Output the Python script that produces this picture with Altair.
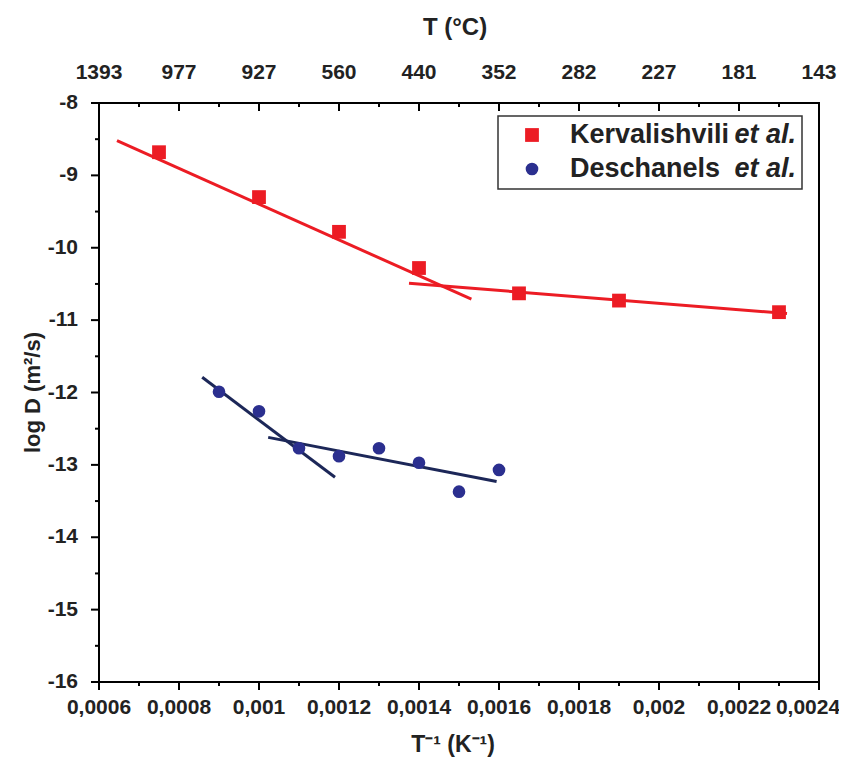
import altair as alt
import pandas as pd

# ---------------- data ----------------
kerv_x = [0.00075, 0.001, 0.0012, 0.0014, 0.00165, 0.0019, 0.0023]
kerv_y = [-8.68, -9.30, -9.78, -10.28, -10.63, -10.73, -10.89]

desch_x = [0.0009, 0.001, 0.0011, 0.0012, 0.0013, 0.0014, 0.0015, 0.0016]
desch_y = [-11.99, -12.26, -12.77, -12.88, -12.77, -12.97, -13.37, -13.07]

kerv_fit_high_x = [0.000645, 0.001531]
kerv_fit_high_y = [-8.52, -10.71]
kerv_fit_low_x = [0.001375, 0.00232]
kerv_fit_low_y = [-10.49, -10.91]

desch_fit_high_x = [0.000858, 0.00119]
desch_fit_high_y = [-11.79, -13.17]
desch_fit_low_x = [0.001023, 0.001594]
desch_fit_low_y = [-12.62, -13.23]

x_major = [0.0006, 0.0008, 0.001, 0.0012, 0.0014, 0.0016, 0.0018, 0.002, 0.0022, 0.0024]
x_labels_bottom = ["0,0006", "0,0008", "0,001", "0,0012", "0,0014", "0,0016",
                   "0,0018", "0,002", "0,0022", "0,0024"]
x_labels_top = ["1393", "977", "927", "560", "440", "352", "282", "227", "181", "143"]

y_major = [-16, -15, -14, -13, -12, -11, -10, -9, -8]
y_labels = ["-16", "-15", "-14", "-13", "-12", "-11", "-10", "-9", "-8"]

series_names = ["Kervalishvili", "Deschanels"]
x_title = "T⁻¹ (K⁻¹)"
x2_title = "T (°C)"
y_title = "log D (m²/s)"

# ---------------- styling ----------------
RED = "#ec1c24"
BLUE_PT = "#2b2f8f"
BLUE_LN = "#1c2758"
FONT = "Liberation Sans"
TXT = "#222222"
W, H = 720, 579

x_minor = [round((a + b) / 2, 5) for a, b in zip(x_major[:-1], x_major[1:])]
y_minor = [v + 0.5 for v in y_major[:-1]]

x_scale = alt.Scale(domain=[x_major[0], x_major[-1]], nice=False, zero=False)
y_scale = alt.Scale(domain=[y_major[0], y_major[-1]], nice=False, zero=False)


def X(field="x"):
    return alt.X(f"{field}:Q", scale=x_scale, axis=None)


def Y(field="y"):
    return alt.Y(f"{field}:Q", scale=y_scale, axis=None)


kerv_df = pd.DataFrame({"x": kerv_x, "y": kerv_y})
desch_df = pd.DataFrame({"x": desch_x, "y": desch_y})

fits = []
for name, seg, xs, ys in [
    ("Kervalishvili", "k1", kerv_fit_high_x, kerv_fit_high_y),
    ("Kervalishvili", "k2", kerv_fit_low_x, kerv_fit_low_y),
    ("Deschanels", "d1", desch_fit_high_x, desch_fit_high_y),
    ("Deschanels", "d2", desch_fit_low_x, desch_fit_low_y),
]:
    for xv, yv in zip(xs, ys):
        fits.append({"series": name, "seg": seg, "x": xv, "y": yv})
fit_df = pd.DataFrame(fits)

red_pts = alt.Chart(kerv_df).mark_square(size=190, color=RED, opacity=1).encode(x=X(), y=Y())
blue_pts = alt.Chart(desch_df).mark_circle(size=160, color=BLUE_PT, opacity=1).encode(x=X(), y=Y())
fit_lines = alt.Chart(fit_df).mark_line(strokeWidth=3).encode(
    x=X(), y=Y(), detail="seg:N",
    color=alt.Color("series:N", scale=alt.Scale(domain=series_names, range=[RED, BLUE_LN]),
                    legend=None),
)

# ---------------- ticks (drawn through the scales) ----------------
xmaj_df = pd.DataFrame({"x": x_major, "bottom": x_labels_bottom, "top": x_labels_top})
xmin_df = pd.DataFrame({"x": x_minor})
ymaj_df = pd.DataFrame({"y": y_major, "label": y_labels})
ymin_df = pd.DataFrame({"y": y_minor})

tick = dict(color="black", strokeWidth=2)
ticks = [
    # bottom, outward
    alt.Chart(xmaj_df).mark_rule(**tick).encode(x=X(), y=alt.value(H), y2=alt.value(H + 8)),
    alt.Chart(xmin_df).mark_rule(**tick).encode(x=X(), y=alt.value(H), y2=alt.value(H + 4)),
    # top, inward
    alt.Chart(xmaj_df).mark_rule(**tick).encode(x=X(), y=alt.value(0), y2=alt.value(8)),
    alt.Chart(xmin_df).mark_rule(**tick).encode(x=X(), y=alt.value(0), y2=alt.value(4)),
    # left, outward
    alt.Chart(ymaj_df).mark_rule(**tick).encode(y=Y(), x=alt.value(-8), x2=alt.value(0)),
    alt.Chart(ymin_df).mark_rule(**tick).encode(y=Y(), x=alt.value(-4), x2=alt.value(0)),
]

# ---------------- tick labels ----------------
lab = dict(font=FONT, fontWeight="bold", fontSize=21, color=TXT, baseline="middle")
n = len(x_major)
labels = [
    alt.Chart(xmaj_df.iloc[: n - 1]).mark_text(align="center", **lab).encode(
        x=X(), y=alt.value(H + 26), text="bottom:N"),
    alt.Chart(xmaj_df.iloc[n - 1:]).mark_text(align="center", dx=-11, **lab).encode(
        x=X(), y=alt.value(H + 26), text="bottom:N"),
    alt.Chart(xmaj_df).mark_text(align="center", **lab).encode(
        x=X(), y=alt.value(-30), text="top:N"),
    alt.Chart(ymaj_df).mark_text(align="right", **lab).encode(
        y=Y(), x=alt.value(-21), text="label:N"),
]

# ---------------- axis titles ----------------
ttl = dict(font=FONT, fontWeight="bold", color=TXT, baseline="middle", align="center")
titles = [
    alt.Chart(pd.DataFrame({"t": [x2_title]})).mark_text(fontSize=24, **ttl).encode(
        x=alt.value(356), y=alt.value(-75), text="t:N"),
    alt.Chart(pd.DataFrame({"t": [x_title]})).mark_text(fontSize=23, **ttl).encode(
        x=alt.value(354), y=alt.value(H + 63), text="t:N"),
    alt.Chart(pd.DataFrame({"t": [y_title]})).mark_text(fontSize=22, angle=270, **ttl).encode(
        x=alt.value(-66), y=alt.value(H / 2), text="t:N"),
]

# ---------------- legend (drawn by hand for the italic "et al.") ----------------
one = pd.DataFrame({"a": [0]})
leg_box = alt.Chart(one).mark_rect(fill="white", stroke="#333333", strokeWidth=1.5).encode(
    x=alt.value(399), x2=alt.value(703), y=alt.value(13), y2=alt.value(86)
)
leg_sq = alt.Chart(one).mark_square(size=190, color=RED, opacity=1).encode(
    x=alt.value(433), y=alt.value(32)
)
leg_ci = alt.Chart(one).mark_circle(size=160, color=BLUE_PT, opacity=1).encode(
    x=alt.value(433), y=alt.value(66)
)
leg_txt = []
for i, name in enumerate(series_names):
    yy = 32 + 34 * i
    leg_txt.append(alt.Chart(one).mark_text(
        text=name, font=FONT, fontWeight="bold", fontSize=27, color=TXT,
        align="left", baseline="middle").encode(x=alt.value(471), y=alt.value(yy)))
    leg_txt.append(alt.Chart(one).mark_text(
        text="et al.", font=FONT, fontWeight="bold", fontStyle="italic", fontSize=27,
        color=TXT, align="right", baseline="middle").encode(x=alt.value(697), y=alt.value(yy)))

chart = alt.layer(
    fit_lines, red_pts, blue_pts, *ticks, *labels, *titles,
    leg_box, leg_sq, leg_ci, *leg_txt,
).properties(
    width=W, height=H,
    autosize=alt.AutoSizeParams(type="none"),
    padding={"left": 91, "top": 95, "right": 20, "bottom": 76},
    background="white",
).configure_view(stroke="black", strokeWidth=2)

chart.save("out.html", embed_options={"renderer": "svg", "actions": False})
